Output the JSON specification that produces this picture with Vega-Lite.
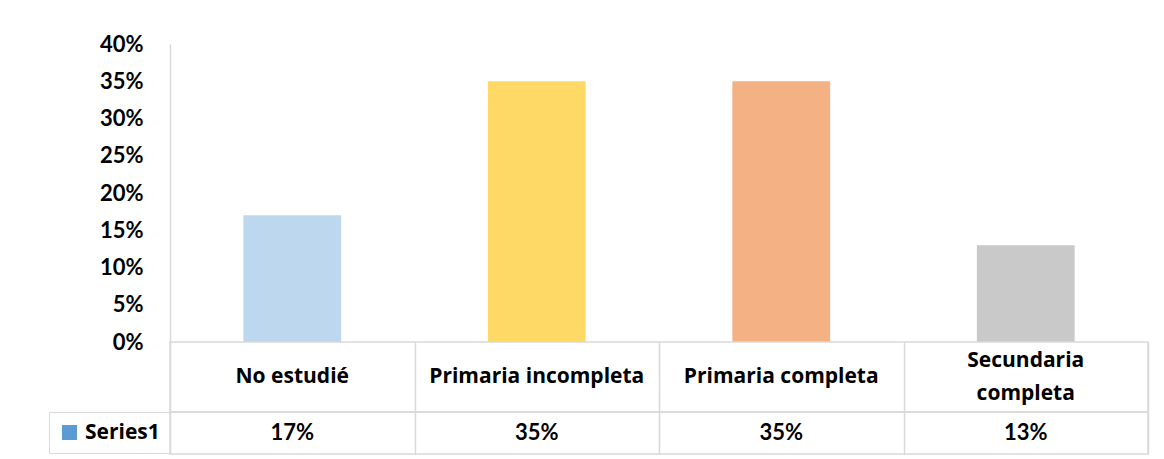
{
  "$schema": "https://vega.github.io/schema/vega-lite/v6.json",
  "background": "white",
  "padding": {"left": 47, "top": 33, "right": 10, "bottom": 0},
  "spacing": 0,
  "bounds": "flush",
  "data": {"values": [
    {"cat": "No estudié", "label": "No estudié", "value": 0.17, "serie": "Series1"},
    {"cat": "Primaria incompleta", "label": "Primaria incompleta", "value": 0.35, "serie": "Series1"},
    {"cat": "Primaria completa", "label": "Primaria completa", "value": 0.35, "serie": "Series1"},
    {"cat": "Secundaria completa", "label": "Secundaria\ncompleta", "value": 0.13, "serie": "Series1"}
  ]},
  "config": {
    "font": "Lato",
    "view": {"stroke": "#D9D9D9", "strokeWidth": 1.5},
    "axis": {"labelFont": "Lato"}
  },
  "resolve": {"scale": {"color": "independent", "x": "independent"}},
  "vconcat": [
    {
      "width": 978,
      "height": 298,
      "view": {"stroke": null},
      "mark": {"type": "bar"},
      "encoding": {
        "x": {
          "field": "cat", "type": "nominal", "sort": null,
          "scale": {"paddingInner": 0.6, "paddingOuter": 0.3},
          "axis": null
        },
        "y": {
          "field": "value", "type": "quantitative",
          "scale": {"domain": [0, 0.4], "nice": false},
          "axis": {
            "title": null,
            "values": [0, 0.05, 0.1, 0.15, 0.2, 0.25, 0.3, 0.35, 0.4],
            "format": ".0%",
            "grid": false,
            "ticks": false,
            "domainColor": "#D9D9D9",
            "domainWidth": 1.5,
            "labelFontSize": 22,
            "labelFontWeight": "bold",
            "labelColor": "#000000",
            "labelPadding": 27
          }
        },
        "color": {
          "field": "cat", "type": "nominal",
          "scale": {
            "domain": ["No estudié", "Primaria incompleta", "Primaria completa", "Secundaria completa"],
            "range": ["#BDD7EE", "#FFD966", "#F4B183", "#C9C9C9"]
          },
          "legend": null
        }
      }
    },
    {
      "width": 978,
      "height": 70,
      "encoding": {
        "x": {
          "field": "cat", "type": "nominal", "sort": null,
          "scale": {"paddingInner": 0, "paddingOuter": 0},
          "axis": {
            "title": null, "labels": false, "ticks": false, "domain": false,
            "grid": true, "tickBand": "extent", "gridColor": "#D9D9D9", "gridWidth": 1.5, "gridOpacity": 1,
            "minExtent": 0, "maxExtent": 0
          }
        },
        "text": {"field": "label"}
      },
      "layer": [
        {
          "transform": [{"filter": "indexof(datum.label, '\\n') < 0"}],
          "mark": {"type": "text", "font": "Open Sans", "fontSize": 21, "fontWeight": "bold", "color": "#000000"}
        },
        {
          "transform": [{"filter": "indexof(datum.label, '\\n') >= 0"}],
          "mark": {"type": "text", "font": "Open Sans", "fontSize": 21, "fontWeight": "bold", "color": "#000000", "lineBreak": "\n", "lineHeight": 33, "dy": -16}
        }
      ]
    },
    {
      "width": 978,
      "height": 42,
      "layer": [
        {
          "mark": {"type": "text", "fontSize": 22, "fontWeight": "bold", "color": "#000000"},
          "encoding": {
            "x": {
              "field": "cat", "type": "nominal", "sort": null,
              "scale": {"paddingInner": 0, "paddingOuter": 0},
              "axis": {
                "title": null, "labels": false, "ticks": false, "domain": false,
                "grid": true, "tickBand": "extent", "gridColor": "#D9D9D9", "gridWidth": 1.5, "gridOpacity": 1,
                "minExtent": 0, "maxExtent": 0
              }
            },
            "text": {"field": "value", "type": "quantitative", "format": ".0%"}
          }
        },
        {
          "mark": {"type": "square", "opacity": 0},
          "encoding": {
            "x": {"field": "cat", "type": "nominal", "sort": null},
            "color": {
              "field": "serie", "type": "nominal",
              "scale": {"domain": ["Series1"], "range": ["#5B9BD5"]},
              "legend": {
                "title": null,
                "orient": "left",
                "offset": 0,
                "padding": 10,
                "strokeColor": "#D9D9D9",
                "symbolType": "square",
                "symbolSize": 225,
                "symbolOpacity": 1,
                "symbolStrokeWidth": 0,
                "labelFont": "Open Sans",
                "labelFontSize": 21,
                "labelFontWeight": "bold",
                "labelColor": "#000000",
                "labelOffset": 5
              }
            }
          }
        }
      ]
    }
  ]
}
